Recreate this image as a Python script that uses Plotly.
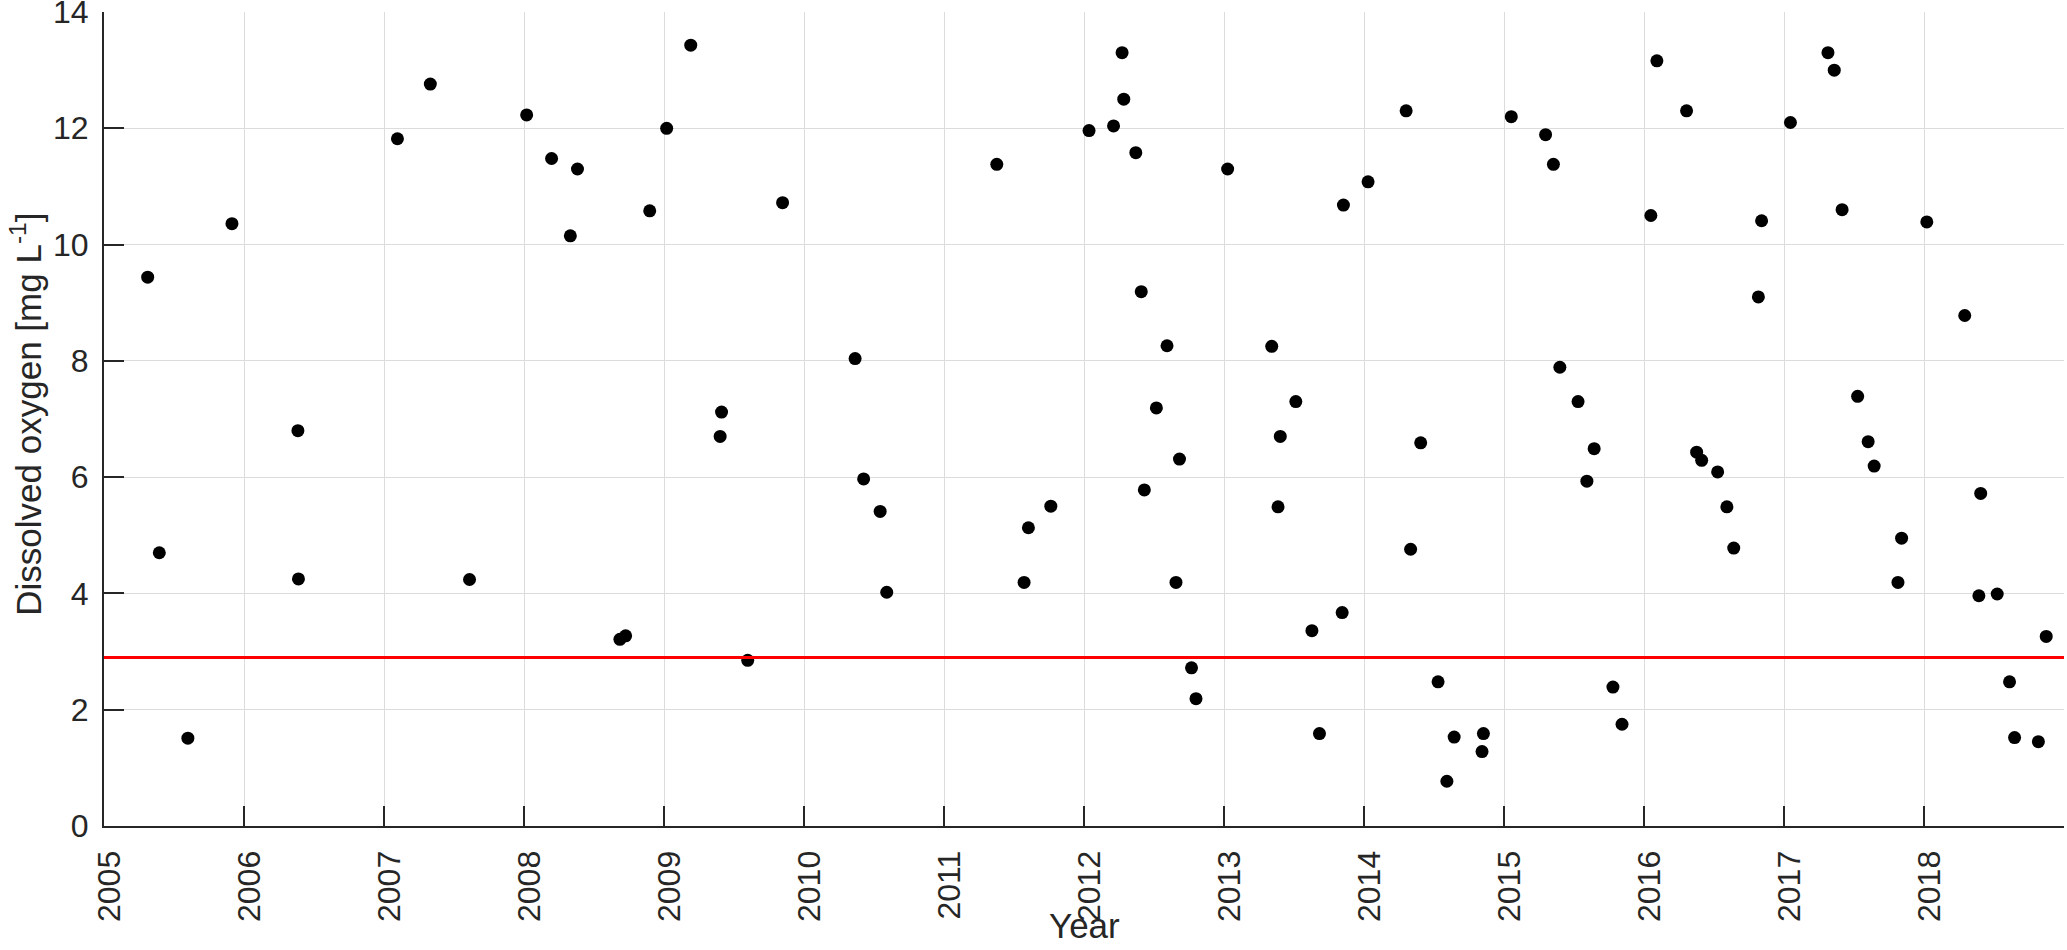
import plotly.graph_objects as go

# Sampling dates (decimal years) and dissolved oxygen [mg/L]
years = [
    2005.312, 2005.395, 2005.599, 2005.914, 2006.385, 2006.389, 2007.096, 2007.331,
    2007.611, 2008.019, 2008.197, 2008.331, 2008.382, 2008.685, 2008.726, 2008.898,
    2009.019, 2009.191, 2009.401, 2009.411, 2009.598, 2009.847, 2010.365, 2010.426,
    2010.544, 2010.591, 2011.377, 2011.572, 2011.603, 2011.763, 2012.036, 2012.211,
    2012.272, 2012.284, 2012.370, 2012.409, 2012.431, 2012.517, 2012.593, 2012.657,
    2012.682, 2012.768, 2012.800, 2013.026, 2013.341, 2013.386, 2013.402, 2013.513,
    2013.628, 2013.682, 2013.844, 2013.853, 2014.029, 2014.301, 2014.333, 2014.405,
    2014.529, 2014.592, 2014.644, 2014.843, 2014.853, 2015.052, 2015.297, 2015.353,
    2015.399, 2015.529, 2015.592, 2015.644, 2015.778, 2015.843, 2016.049, 2016.092,
    2016.304, 2016.376, 2016.412, 2016.526, 2016.592, 2016.641, 2016.817, 2016.840,
    2017.046, 2017.314, 2017.359, 2017.415, 2017.526, 2017.601, 2017.644, 2017.814,
    2017.840, 2018.020, 2018.291, 2018.392, 2018.405, 2018.523, 2018.611, 2018.647,
    2018.817, 2018.873,
]
oxygen = [
    9.44, 4.70, 1.51, 10.36, 6.80, 4.25, 11.82, 12.76,
    4.24, 12.23, 11.48, 10.15, 11.30, 3.21, 3.27, 10.58,
    12.00, 13.43, 6.70, 7.12, 2.85, 10.72, 8.04, 5.97,
    5.41, 4.02, 11.38, 4.19, 5.13, 5.50, 11.96, 12.04,
    13.30, 12.50, 11.58, 9.19, 5.78, 7.19, 8.26, 4.19,
    6.31, 2.72, 2.19, 11.30, 8.25, 5.49, 6.70, 7.30,
    3.36, 1.59, 3.67, 10.68, 11.08, 12.30, 4.76, 6.59,
    2.48, 0.77, 1.53, 1.28, 1.59, 12.20, 11.89, 11.38,
    7.89, 7.30, 5.93, 6.49, 2.39, 1.75, 10.50, 13.16,
    12.30, 6.43, 6.29, 6.09, 5.49, 4.78, 9.10, 10.41,
    12.10, 13.30, 13.00, 10.60, 7.39, 6.61, 6.19, 4.19,
    4.95, 10.39, 8.78, 3.96, 5.72, 3.99, 2.48, 1.52,
    1.45, 3.26,
]
threshold = 2.9
tick_years = list(range(2005, 2019))
tick_labels = [str(y) for y in tick_years]
y_ticks = [0, 2, 4, 6, 8, 10, 12, 14]

FONT = "Liberation Sans, Arial, Helvetica, sans-serif"
TXT = "#262626"
GRID = "#dcdcdc"

fig = go.Figure()
fig.add_trace(go.Scatter(
    x=years, y=oxygen, mode="markers",
    marker=dict(color="black", size=13, line=dict(width=0)),
    showlegend=False, hoverinfo="x+y",
))
fig.add_shape(type="line", xref="x", yref="y",
              x0=2005, x1=2019, y0=threshold, y1=threshold,
              line=dict(color="#ff0000", width=3), layer="above")

fig.update_layout(
    width=2067, height=950,
    margin=dict(l=104, r=3, t=12, b=124, pad=0),
    paper_bgcolor="white", plot_bgcolor="white",
    font=dict(family=FONT, size=32, color=TXT),
    xaxis=dict(
        range=[2005, 2019], tickmode="array", tickvals=tick_years, ticktext=tick_labels,
        tickangle=-90, ticks="inside", ticklen=20, tickwidth=2, tickcolor=TXT,
        showline=True, linecolor=TXT, linewidth=2, mirror=False, automargin=False,
        showgrid=True, gridcolor=GRID, gridwidth=1, zeroline=False,
        tickfont=dict(family=FONT, size=32, color=TXT), ticklabelstandoff=10,
        ticklabelshift=6, ticklabeloverflow="allow",
    ),
    yaxis=dict(
        range=[0, 14.0001], tickmode="array", tickvals=y_ticks,
        ticks="inside", ticklen=20, tickwidth=2, tickcolor=TXT,
        showline=True, linecolor=TXT, linewidth=2, mirror=False, automargin=False,
        showgrid=True, gridcolor=GRID, gridwidth=1, zeroline=False,
        tickfont=dict(family=FONT, size=32, color=TXT), ticklabelstandoff=7,
        ticklabeloverflow="allow",
    ),
    annotations=[
        dict(text="Year", xref="paper", yref="paper", x=0.5, y=-0.1485,
             xanchor="center", yanchor="bottom", showarrow=False,
             font=dict(family=FONT, size=35, color=TXT)),
        dict(text="Dissolved oxygen [mg L<sup>-1</sup>]", xref="paper", yref="paper",
             x=-0.0395, y=0.506, xanchor="center", yanchor="middle", textangle=-90,
             showarrow=False, font=dict(family=FONT, size=35, color=TXT)),
    ],
)
fig.write_html("out.html", config={"displayModeBar": False},
               post_script="document.body.style.margin='0';document.body.style.overflow='hidden';")
